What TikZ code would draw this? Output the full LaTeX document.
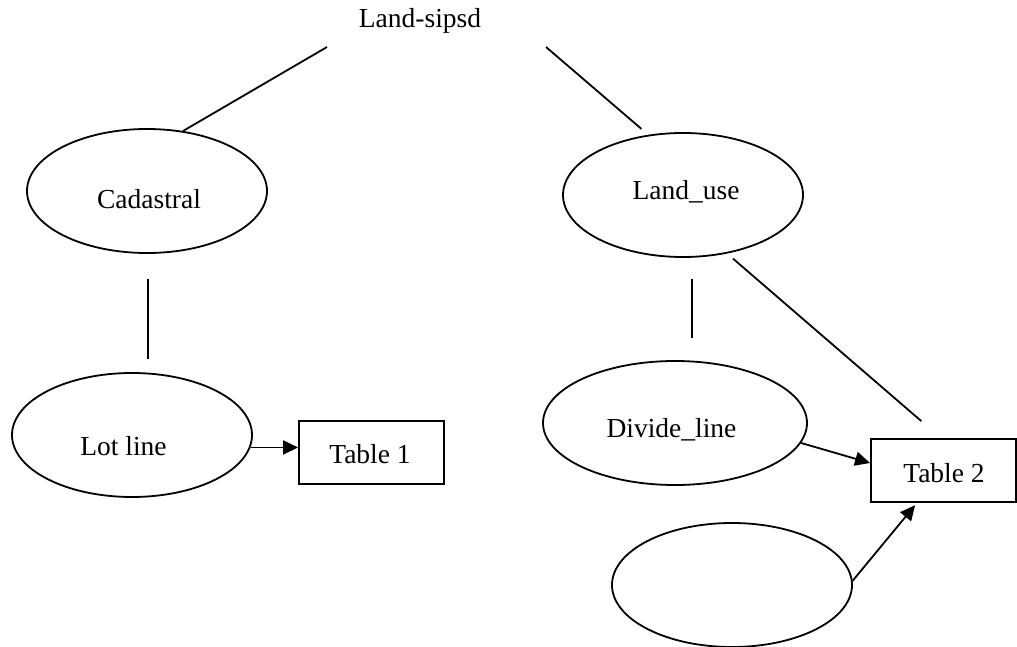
\documentclass[tikz,border=0pt]{standalone}
\usepackage{fontspec}
\setmainfont{Liberation Serif}
\usetikzlibrary{shapes.geometric,arrows.meta}
\begin{document}
\begin{tikzpicture}[x=1pt,y=-1pt,
  line width=1.8pt,
  oval/.style={draw,ellipse,inner sep=0pt,minimum width=240pt,minimum height=124pt},
  tablebox/.style={draw,rectangle,inner sep=0pt,minimum width=145pt,minimum height=63pt},
  lbl/.style={inner sep=0pt,anchor=base,font=\fontsize{27.5pt}{33pt}\selectfont},
  arr/.style={-{Triangle[length=15pt,width=14pt]}},
]
\useasboundingbox (0,0) rectangle (1017,647);

% title
\node[lbl] (title) at (420,28) {Land-sipsd};

% left branch
\node[oval] (cad) at (147,191) {};
\node[lbl] (cadtext) at (149,208) {Cadastral};
\node[oval] (lot) at (132,435) {};
\node[lbl] (lottext) at (123.5,455) {Lot line};
\node[tablebox] (t1) at (371.5,452.5) {};
\node[lbl] (t1text) at (370,463) {Table 1};

% right branch
\node[oval] (lu) at (683,195) {};
\node[lbl] (lutext) at (686,200) {Land\_use};
\node[oval,minimum width=264pt] (div) at (675,423) {};
\node[lbl] (divtext) at (671.5,437) {Divide\_line};
\node[tablebox] (t2) at (943.5,470.5) {};
\node[lbl] (t2text) at (944,482) {Table 2};
\node[oval] (blank) at (732,585) {};

% connectors from the title
\coordinate (tl) at (327,47);
\coordinate (tr) at (546,47);
\draw (tl) -- (cad.59);
\draw[shorten >=9pt] (tr) -- (lu.120);

% left branch connectors
\coordinate (cadb) at ([xshift=1pt]cad.south);
\draw[shorten <=25pt,shorten >=13pt] (cadb) -- (cadb |- lot.north);
\draw[arr] (lot.-6) -- (lot.-6 -| t1.west);

% right branch connectors
\coordinate (lub) at ([xshift=9pt]lu.south);
\draw[shorten <=21pt,shorten >=22pt] (lub) -- (lub |- div.north);
\coordinate (t2top) at ([xshift=-2.5pt]t2.north);
\draw[shorten <=7.8pt,shorten >=26pt] (lu.-53) -- (t2top);
\coordinate (t2in) at ([yshift=7.5pt]t2.west);
\draw[arr] (div.-9) -- (t2in);
\coordinate (t2low) at ([xshift=-26.5pt]t2.south);
\draw[arr,shorten >=3pt] (blank.2) -- (t2low);
\end{tikzpicture}
\end{document}
